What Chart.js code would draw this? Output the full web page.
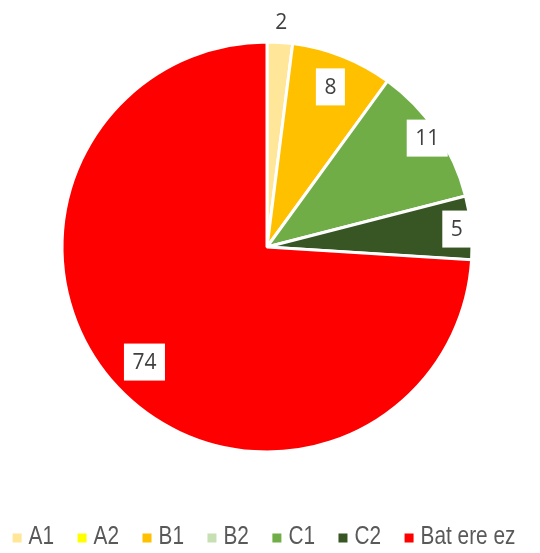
<!DOCTYPE html>
<html>
<head>
<meta charset="utf-8">
<script src="https://cdn.jsdelivr.net/npm/chart.js@4/dist/chart.umd.min.js"></script>
<style>
	html, body { margin: 0; padding: 0; background: #fff; }
	#wrap { width: 540px; height: 553px; }
</style>
</head>
<body>
<div id="wrap"><canvas id="chart" width="540" height="553"></canvas></div>
<script>
'use strict';

var categories = ['A1', 'A2', 'B1', 'B2', 'C1', 'C2', 'Bat ere ez'];
var values = [2, 0, 8, 0, 11, 5, 74];
var sliceColors = ['#ffe699', '#ffff00', '#ffc000', '#c6e0b4', '#70ad47', '#375623', '#ff0000'];
// how far out each value label sits, as a share of the radius
var labelReach = [1.10, 0, 0.84, 0, 0.945, 0.93, 0.82];

var legendFont = '26px "Liberation Sans", sans-serif';
var legendSqueeze = 0.8; // narrow look of the original legend font
var labelFont = '21px "Open Sans", sans-serif';

// Value labels in white boxes, placed along each slice's middle angle.
var valueLabels = {
	id: 'valueLabels',
	afterDatasetsDraw: function (chart) {
		var ctx = chart.ctx;
		var meta = chart.getDatasetMeta(0);
		ctx.save();
		ctx.font = labelFont;
		ctx.textAlign = 'center';
		ctx.textBaseline = 'middle';
		meta.data.forEach(function (arc, i) {
			var v = values[i];
			if (!v) {
				return;
			}
			var p = arc.getProps(['x', 'y', 'startAngle', 'endAngle', 'outerRadius'], true);
			var mid = (p.startAngle + p.endAngle) / 2;
			var d = p.outerRadius * labelReach[i];
			var x = p.x + Math.cos(mid) * d;
			var y = p.y + Math.sin(mid) * d;
			var text = String(v);
			var w = ctx.measureText(text).width + 17;
			var h = 37;
			ctx.fillStyle = '#ffffff';
			ctx.fillRect(x - w / 2, y - h / 2, w, h);
			ctx.fillStyle = '#404040';
			ctx.fillText(text, x, y + 1);
		});
		ctx.restore();
	}
};

// Legend row along the bottom, Excel style (small square, grey text).
var bottomLegend = {
	id: 'bottomLegend',
	afterDraw: function (chart) {
		var ctx = chart.ctx;
		var box = 9, gapText = 7, gapItem = 23.5;
		var cy = 537;
		ctx.save();
		ctx.font = legendFont;
		ctx.textBaseline = 'middle';
		var widths = categories.map(function (c) {
			return ctx.measureText(c).width * legendSqueeze;
		});
		var total = widths.reduce(function (a, w) { return a + box + gapText + w; }, 0) +
			gapItem * (categories.length - 1);
		var x = 264 - total / 2;
		categories.forEach(function (c, i) {
			ctx.fillStyle = sliceColors[i];
			ctx.fillRect(x, cy - box / 2 + 1, box, box);
			ctx.save();
			ctx.translate(x + box + gapText, cy);
			ctx.scale(legendSqueeze, 1);
			ctx.fillStyle = '#595959';
			ctx.fillText(c, 0, 0);
			ctx.restore();
			x += box + gapText + widths[i] + gapItem;
		});
		ctx.restore();
	}
};

new Chart(document.getElementById('chart').getContext('2d'), {
	type: 'pie',
	data: {
		labels: categories,
		datasets: [{
			data: values,
			backgroundColor: sliceColors,
			borderColor: '#ffffff',
			borderWidth: 3,
			radius: 205
		}]
	},
	options: {
		responsive: false,
		animation: false,
		layout: {
			padding: { top: 42, bottom: 101, left: 0, right: 6 }
		},
		plugins: {
			legend: { display: false },
			tooltip: { enabled: false }
		}
	},
	plugins: [valueLabels, bottomLegend]
});
</script>
</body>
</html>
